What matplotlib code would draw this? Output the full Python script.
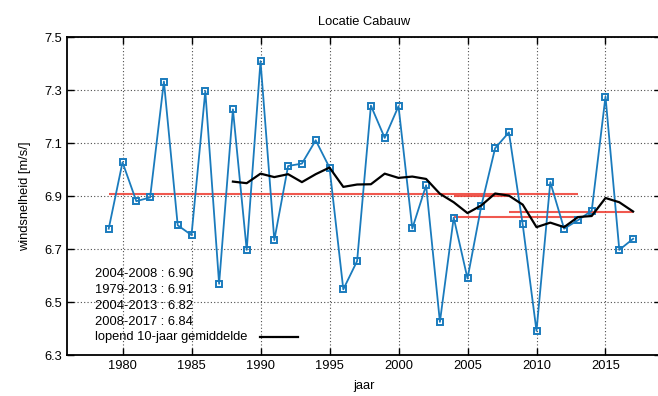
import matplotlib
matplotlib.use("Agg")
import matplotlib.pyplot as plt

plt.rcParams['font.family'] = ['Liberation Sans', 'DejaVu Sans']

years = list(range(1979, 2018))
wind = [6.777, 7.028, 6.881, 6.895, 7.333, 6.790, 6.753, 7.297, 6.569, 7.228,
        6.697, 7.410, 6.734, 7.014, 7.023, 7.111, 7.008, 6.548, 6.655, 7.242,
        7.120, 7.240, 6.778, 6.941, 6.425, 6.819, 6.589, 6.863, 7.081, 7.141,
        6.793, 6.391, 6.953, 6.777, 6.809, 6.845, 7.276, 6.697, 6.739]

run_years = list(range(1988, 2018))
run_mean = [6.955, 6.949, 6.985, 6.972, 6.983, 6.953, 6.983, 7.008, 6.935, 6.944,
            6.945, 6.985, 6.969, 6.974, 6.965, 6.909, 6.877, 6.836, 6.865, 6.910,
            6.902, 6.868, 6.783, 6.800, 6.783, 6.821, 6.825, 6.893, 6.877, 6.842]

period_start = [2004, 1979, 2004, 2008]
period_end = [2008, 2013, 2013, 2017]
period_mean = [6.90, 6.91, 6.82, 6.84]
period_labels = ["2004-2008 : 6.90", "1979-2013 : 6.91", "2004-2013 : 6.82", "2008-2017 : 6.84"]
run_label = "lopend 10-jaar gemiddelde"

xticks = [1980, 1985, 1990, 1995, 2000, 2005, 2010, 2015]
yticks = [6.3, 6.5, 6.7, 6.9, 7.1, 7.3, 7.5]

fig = plt.figure(figsize=(6.58, 3.96), dpi=100)
ax = fig.add_axes([0.1023, 0.1035, 0.9018, 0.8023])

blue = '#1a7bbd'
red = '#ee3b30'

ax.plot(years, wind, color=blue, lw=1.3, marker='s', markersize=4.8,
        markerfacecolor='none', markeredgecolor=blue, markeredgewidth=1.4, zorder=3)
ax.hlines(period_mean, period_start, period_end, colors=red, lw=1.5, alpha=0.85, zorder=2)
ax.plot(run_years, run_mean, color='black', lw=1.6, zorder=4)

ax.set_xlim(1976, 2019)
ax.set_ylim(6.3, 7.5)
ax.set_xticks(xticks)
ax.set_yticks(yticks)
ax.set_yticklabels([f"{v:.1f}" for v in yticks])
ax.tick_params(direction='in', length=5, width=1, top=True, right=True, labelsize=9.3)
ax.grid(True, linestyle=(0, (1, 2)), color='0.3', lw=0.8)
ax.set_axisbelow(True)
for s in ax.spines.values():
    s.set_linewidth(1.3)

ax.set_title("Locatie Cabauw", fontsize=9.3, pad=9)
ax.set_xlabel("jaar", fontsize=9.3, labelpad=6)
ax.set_ylabel("windsnelheid [m/s/]", fontsize=9.3, labelpad=10)

rows_y = [0.255, 0.2046, 0.154, 0.104]
for lab, yy in zip(period_labels, rows_y):
    ax.text(0.0467, yy, lab, transform=ax.transAxes, fontsize=9.3, va='center', ha='left', zorder=5)
ax.text(0.0467, 0.0567, run_label, transform=ax.transAxes, fontsize=9.3, va='center', ha='left', zorder=5)
ax.plot([0.3244, 0.3884], [0.0567, 0.0567], transform=ax.transAxes, color='black', lw=1.6, zorder=5)

fig.savefig("out.png", dpi=100)
